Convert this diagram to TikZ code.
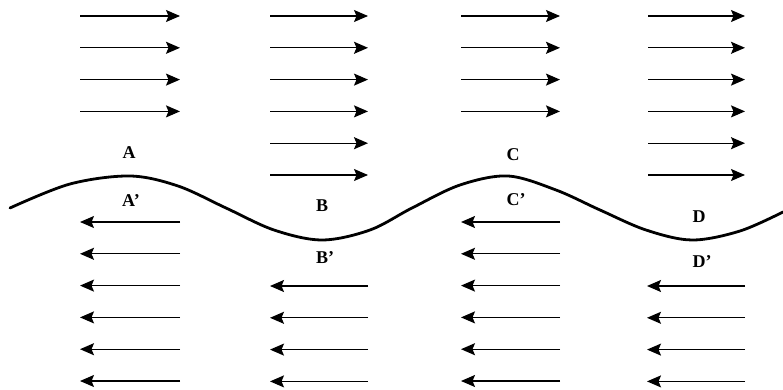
\documentclass[tikz,border=0pt]{standalone}
\usepackage{fontspec}
\setmainfont{Liberation Serif}
\usetikzlibrary{arrows.meta}
\begin{document}
\begin{tikzpicture}[x=1pt,y=-1pt,
  flow/.style={line width=1.3pt, -{Stealth[length=14pt,width=12pt,inset=2.5pt]}},
  wave/.style={line width=2.8pt, line cap=round},
  lbl/.style={font=\bfseries\fontsize{18}{18}\selectfont, inner sep=0pt}]
\useasboundingbox (0,0) rectangle (783,390);
% rightward arrows (upper)
\foreach \xa/\xb/\n [count=\c] in {80/180/4, 270/368/6, 461/560/4, 648/745/6} {
  \foreach \k in {1,...,\n} {
    \coordinate (rs\c-\k) at (\xa,{16+31.8*(\k-1)});
    \coordinate (re\c-\k) at (\xb,{16+31.8*(\k-1)});
    \draw[flow] (rs\c-\k) -- (re\c-\k);
  }
}
% leftward arrows (lower)
\foreach \xa/\xb/\n/\y [count=\c] in {80/180/6/222, 270/368/4/286, 461/560/6/222, 647/745/4/286} {
  \foreach \k in {1,...,\n} {
    \coordinate (ls\c-\k) at (\xb,{\y+31.8*(\k-1)});
    \coordinate (le\c-\k) at (\xa,{\y+31.8*(\k-1)});
    \draw[flow] (ls\c-\k) -- (le\c-\k);
  }
}
% wave
\draw[wave] plot[smooth, tension=0.55] coordinates {(10,208) (70,184) (130,176) (178,186) (226,208) (274,230) (322,240) (370,230) (412,208) (460,185) (508,176) (556,190) (600,210) (646,230) (692,240) (740,231) (783,212)};
% labels
\node[lbl] (A) at (129,153) {A};
\node[lbl] (A2) at (131,201) {A’};
\node[lbl] (B) at (322,206) {B};
\node[lbl] (B2) at (325,258) {B’};
\node[lbl] (C) at (513,155) {C};
\node[lbl] (C2) at (516,200) {C’};
\node[lbl] (D) at (699,217) {D};
\node[lbl] (D2) at (702,262) {D’};
\end{tikzpicture}
\end{document}
